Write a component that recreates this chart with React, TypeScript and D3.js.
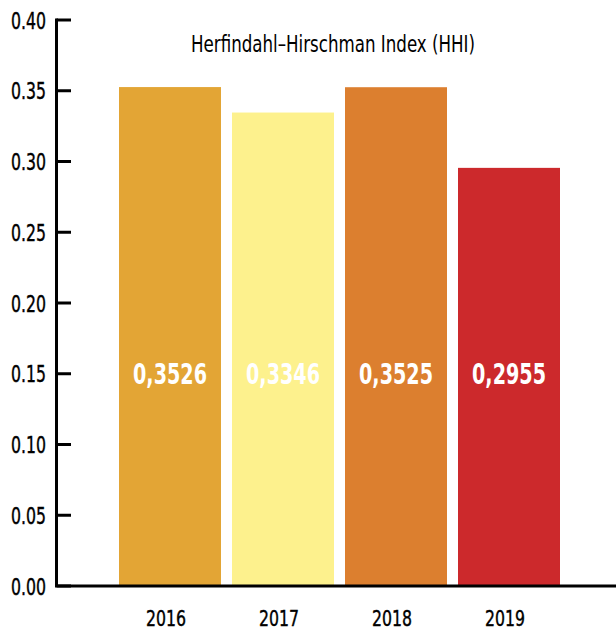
import React from "react";
import * as d3 from "d3";

const years = ["2016", "2017", "2018", "2019"];
const hhi = [0.3526, 0.3346, 0.3525, 0.2955];
const valueLabels = ["0,3526", "0,3346", "0,3525", "0,2955"];
const barColors = ["#E3A535", "#FDF18D", "#DC7F2F", "#CC292C"];
const yTicks = [0, 0.05, 0.1, 0.15, 0.2, 0.25, 0.3, 0.35, 0.4];
const title = "Herfindahl–Hirschman Index (HHI)";

const W = 616;
const H = 632;
const FONT = "'DejaVu Sans Condensed', 'DejaVu Sans', sans-serif";

export default function App() {
  const x = d3
    .scaleBand<string>()
    .domain(years)
    .range([113.5, 565.5])
    .paddingInner(11 / 113)
    .paddingOuter(11 / 226);
  const y = d3.scaleLinear().domain([0, 0.4]).range([586, 20]);
  const fmt = d3.format(".2f");
  const axisX = 56.5;

  return (
    <svg
      width={W}
      height={H}
      style={{ position: "absolute", left: 0, top: 0, background: "#fff" }}
      fontFamily={FONT}
    >
      {years.map((yr, i) => (
        <rect
          key={yr}
          x={x(yr)}
          y={y(hhi[i])}
          width={x.bandwidth()}
          height={y(0) - y(hhi[i])}
          fill={barColors[i]}
        />
      ))}
      {/* y axis */}
      <line x1={axisX} x2={axisX} y1={y(0.4) - 1.5} y2={y(0)} stroke="#000" strokeWidth={3} />
      {yTicks.map((t) => (
        <g key={t}>
          <line x1={axisX} x2={71} y1={y(t)} y2={y(t)} stroke="#000" strokeWidth={3} />
          <text
            x={46}
            y={y(t)}
            dy="0.38em"
            textAnchor="end"
            fontSize={23}
            fill="#000"
            stroke="#000"
            strokeWidth={0.4}
            textLength={35}
            lengthAdjust="spacingAndGlyphs"
          >
            {fmt(t)}
          </text>
        </g>
      ))}
      {/* x baseline */}
      <line x1={axisX - 1.5} x2={W} y1={y(0)} y2={y(0)} stroke="#000" strokeWidth={3} />
      {years.map((yr) => (
        <text
          key={yr}
          x={(x(yr) as number) + x.bandwidth() / 2 - 4}
          y={626}
          textAnchor="middle"
          fontSize={22}
          fill="#000"
          stroke="#000"
          strokeWidth={0.4}
          textLength={40}
          lengthAdjust="spacingAndGlyphs"
        >
          {yr}
        </text>
      ))}
      {years.map((yr, i) => (
        <text
          key={yr + "v"}
          x={(x(yr) as number) + x.bandwidth() / 2}
          y={y(0.15)}
          dy="0.37em"
          textAnchor="middle"
          fontSize={28}
          fontWeight="bold"
          fill="#fff"
          textLength={74}
          lengthAdjust="spacingAndGlyphs"
        >
          {valueLabels[i]}
        </text>
      ))}
      <text
        x={333}
        y={52}
        textAnchor="middle"
        fontSize={23}
        fill="#000"
        textLength={284}
        lengthAdjust="spacingAndGlyphs"
      >
        {title}
      </text>
    </svg>
  );
}
